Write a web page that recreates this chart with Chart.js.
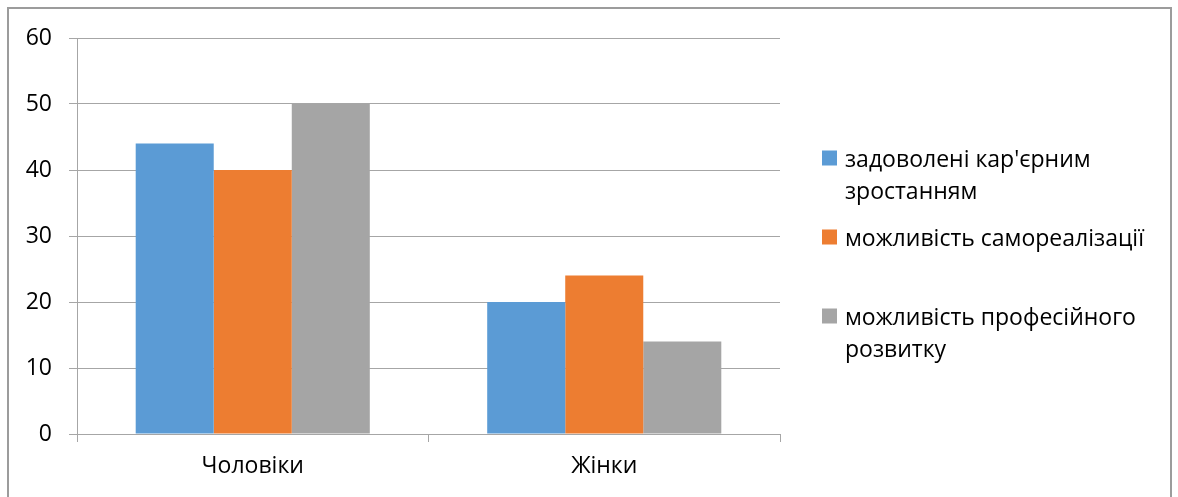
<!DOCTYPE html>
<html>
<head>
<meta charset="utf-8">
<script src="https://cdn.jsdelivr.net/npm/chart.js@4/dist/chart.umd.min.js"></script>
<style>
  html, body { margin: 0; padding: 0; background: #ffffff; }
  #wrap { position: relative; width: 1178px; height: 497px; overflow: hidden; }
  #frame { position: absolute; left: 7px; top: 7px; width: 1165px; height: 520px;
           border: 2px solid #9c9c9c; box-sizing: border-box; pointer-events: none; }
  canvas { position: absolute; left: 0; top: 0; }
</style>
</head>
<body>
<div id="wrap">
  <canvas id="chart" width="1178" height="497"></canvas>
  <div id="frame"></div>
</div>
<script>
// Categories and series
const categories = ['Чоловіки', 'Жінки'];
const seriesNames = [
  "задоволені кар'єрним зростанням",
  'можливість самореалізації',
  'можливість професійного розвитку'
];
const careerSatisfied = [44, 20];
const selfRealization = [40, 24];
const professionalGrowth = [50, 14];
const seriesColors = ['#5B9BD5', '#ED7D31', '#A5A5A5'];
const yTicks = [0, 10, 20, 30, 40, 50, 60];

const FONT = "'Open Sans', 'Noto Sans', sans-serif";
const FONT_SIZE = 23;
const AXIS_GREY = '#a6a6a6';

// Legend on the right, with word-wrapped labels
const sideLegend = {
  id: 'sideLegend',
  afterDraw(chart) {
    const ctx = chart.ctx;
    const x0 = 822, box = 15, textX = 845, maxW = 320, lineH = 32, slot = 79;
    let y = 160;
    ctx.save();
    ctx.font = FONT_SIZE + 'px ' + FONT;
    ctx.textBaseline = 'middle';
    ctx.textAlign = 'left';
    chart.data.datasets.forEach((ds) => {
      const words = ds.label.split(' ');
      const lines = [];
      let cur = '';
      words.forEach((w) => {
        const test = cur ? cur + ' ' + w : w;
        if (cur && ctx.measureText(test).width > maxW) { lines.push(cur); cur = w; }
        else cur = test;
      });
      if (cur) lines.push(cur);
      ctx.fillStyle = ds.backgroundColor;
      ctx.fillRect(x0, y - box / 2 - 2, box, box);
      ctx.fillStyle = '#000000';
      lines.forEach((ln, i) => ctx.fillText(ln, textX, y + i * lineH));
      y += slot;
    });
    ctx.restore();
  }
};

new Chart(document.getElementById('chart'), {
  type: 'bar',
  data: {
    labels: categories,
    datasets: [
      { label: seriesNames[0], data: careerSatisfied, backgroundColor: seriesColors[0] },
      { label: seriesNames[1], data: selfRealization, backgroundColor: seriesColors[1] },
      { label: seriesNames[2], data: professionalGrowth, backgroundColor: seriesColors[2] }
    ]
  },
  options: {
    responsive: false,
    animation: false,
    devicePixelRatio: 1,
    layout: { padding: { top: 38, right: 398, left: 0, bottom: 0 } },
    datasets: { bar: { categoryPercentage: 0.666, barPercentage: 1.0, borderWidth: 0 } },
    plugins: { legend: { display: false }, tooltip: { enabled: false } },
    scales: {
      x: {
        afterFit(scale) { scale.height = 63; },
        grid: { display: true, drawOnChartArea: false, drawTicks: true, tickLength: 8,
                offset: true, color: AXIS_GREY, lineWidth: 1 },
        border: { display: true, color: AXIS_GREY, width: 1 },
        ticks: { color: '#000000', padding: 11, font: { family: FONT, size: FONT_SIZE } }
      },
      y: {
        min: 0, max: 60,
        afterFit(scale) { scale.width = 77; },
        afterBuildTicks(scale) { scale.ticks = yTicks.map(v => ({ value: v })); },
        grid: { color: AXIS_GREY, lineWidth: 1, tickLength: 8, drawTicks: true },
        border: { display: true, color: AXIS_GREY, width: 1 },
        ticks: { color: '#000000', padding: 17, font: { family: FONT, size: FONT_SIZE } }
      }
    }
  },
  plugins: [sideLegend]
});
</script>
</body>
</html>
